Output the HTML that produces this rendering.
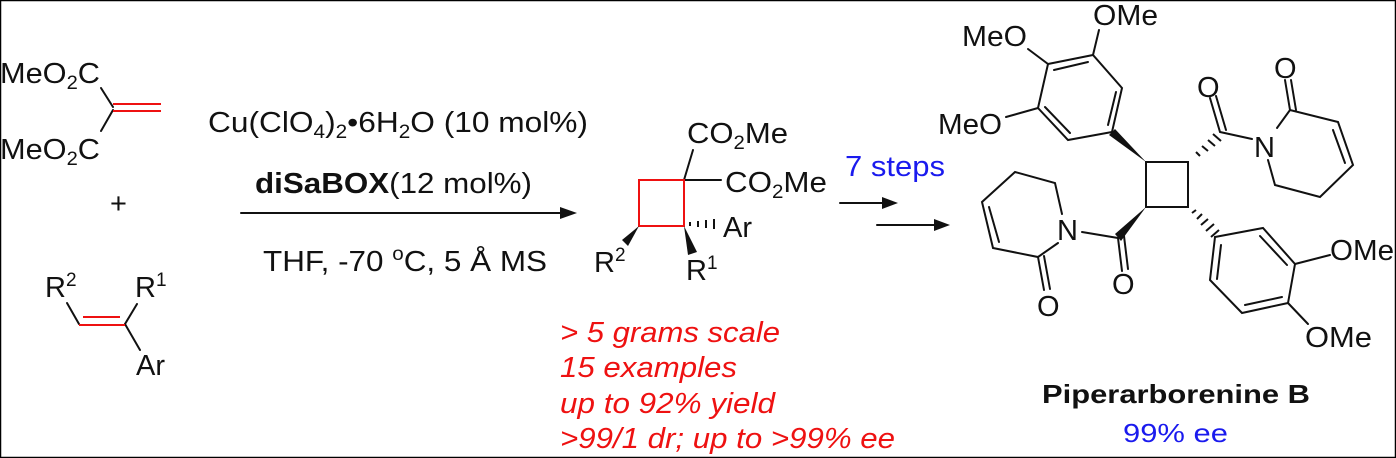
<!DOCTYPE html>
<html><head><meta charset="utf-8"><style>
html,body{margin:0;padding:0;background:#fff}
svg{display:block}
text{font-family:"Liberation Sans",Arial,sans-serif;font-size:29px;fill:#111}
.s{font-size:19px}
</style></head><body>
<svg width="1396" height="458" viewBox="0 0 1396 458" xmlns="http://www.w3.org/2000/svg">
<rect x="0.5" y="0.5" width="1395" height="457" fill="#fff" stroke="#000" stroke-width="1.5"/>
<g stroke="#111" stroke-width="2" fill="none" stroke-linecap="round">
<line x1="101" y1="88" x2="113" y2="107"/>
<line x1="113" y1="110" x2="101" y2="131"/>
<line x1="67" y1="303" x2="79" y2="324"/>
<line x1="125" y1="324" x2="137" y2="304"/>
<line x1="125" y1="324" x2="140" y2="350"/>
<line x1="241" y1="213" x2="565" y2="213"/>
<line x1="840" y1="203" x2="888" y2="203"/>
<line x1="877" y1="225" x2="940" y2="225"/>
<line x1="684" y1="180" x2="693" y2="150"/>
<line x1="684" y1="180" x2="721" y2="180"/>
<polygon points="1146,162 1188,162 1188,207 1146,207"/>
<polygon points="1112,132 1122,88 1093,55 1048,64 1038,108 1068,140"/>
<line x1="1116" y1="92" x2="1108" y2="125"/>
<line x1="1088" y1="62" x2="1054" y2="70"/>
<line x1="1045" y1="107" x2="1070" y2="133"/>
<line x1="1093" y1="55" x2="1099" y2="30"/>
<line x1="1048" y1="64" x2="1028" y2="49"/>
<line x1="1038" y1="108" x2="1006" y2="117"/>
<line x1="1220" y1="132" x2="1210" y2="98"/>
<line x1="1226" y1="130" x2="1216" y2="96"/>
<line x1="1220" y1="132" x2="1252" y2="139"/>
<polyline points="1277,128 1290,110 1338,122 1353,165 1320,197 1275,185 1268,160"/>
<line x1="1333" y1="130" x2="1345" y2="163"/>
<line x1="1290" y1="110" x2="1285" y2="80"/>
<line x1="1296" y1="110" x2="1291" y2="80"/>
<line x1="1118" y1="238" x2="1122" y2="271"/>
<line x1="1124" y1="236" x2="1128" y2="269"/>
<line x1="1118" y1="238" x2="1082" y2="232"/>
<polyline points="1058,243 1038,257 993,248 982,202 1015,172 1055,183 1062,214"/>
<line x1="999" y1="242" x2="989" y2="207"/>
<line x1="1038" y1="257" x2="1044" y2="290"/>
<line x1="1044" y1="256" x2="1050" y2="289"/>
<polygon points="1215,237 1263,228 1295,264 1288,303 1242,313 1210,280"/>
<line x1="1260" y1="236" x2="1287" y2="265"/>
<line x1="1282" y1="297" x2="1245" y2="305"/>
<line x1="1217" y1="279" x2="1221" y2="245"/>
<line x1="1295" y1="264" x2="1330" y2="255"/>
<line x1="1288" y1="303" x2="1308" y2="324"/>
</g>
<g stroke="#ee1111" stroke-width="2" fill="none">
<line x1="113" y1="104" x2="161" y2="104"/>
<line x1="113" y1="111" x2="161" y2="111"/>
<line x1="79" y1="325" x2="125" y2="325"/>
<line x1="83" y1="317" x2="120" y2="317"/>
<rect x="639" y="180" width="45" height="46"/>
</g>
<g fill="#111">
<polygon points="577,213 560,207 560,219"/>
<polygon points="898,203 882,197 882,209"/>
<polygon points="950,225 934,219 934,231"/>
<polygon points="684,226 688,255 697,252"/>
<polygon points="639,226 622,240 628,246"/>
<polygon points="1146,162 1109,135 1115,129"/>
<polygon points="1146,207 1115,234 1121,241"/>
</g>
<g stroke="#111" stroke-width="2">
<line x1="690" y1="222" x2="690" y2="226"/><line x1="698" y1="221" x2="698" y2="227"/><line x1="706" y1="220" x2="706" y2="228"/><line x1="714" y1="219" x2="714" y2="229"/>
<line x1="1196" y1="152" x2="1200" y2="156"/><line x1="1202" y1="146" x2="1208" y2="151"/><line x1="1208" y1="140" x2="1215" y2="146"/><line x1="1213" y1="134" x2="1221" y2="141"/>
<line x1="1192" y1="213" x2="1196" y2="210"/><line x1="1197" y1="219" x2="1202" y2="214"/><line x1="1201" y1="225" x2="1208" y2="219"/><line x1="1206" y1="231" x2="1214" y2="224"/><line x1="1211" y1="237" x2="1219" y2="230"/>
</g>
<text x="0" y="83" textLength="100" lengthAdjust="spacingAndGlyphs">MeO<tspan class="s" dy="6">2</tspan><tspan dy="-6">C</tspan></text>
<text x="0" y="159" textLength="100" lengthAdjust="spacingAndGlyphs">MeO<tspan class="s" dy="6">2</tspan><tspan dy="-6">C</tspan></text>
<text x="110" y="213">+</text>
<text x="45" y="297">R<tspan class="s" dy="-11">2</tspan></text>
<text x="135" y="297">R<tspan class="s" dy="-11">1</tspan></text>
<text x="136" y="375">Ar</text>
<text x="208" y="132" textLength="380" lengthAdjust="spacingAndGlyphs">Cu(ClO<tspan class="s" dy="6">4</tspan><tspan dy="-6">)</tspan><tspan class="s" dy="6">2</tspan><tspan dy="-6">•6H</tspan><tspan class="s" dy="6">2</tspan><tspan dy="-6">O (10 mol%)</tspan></text>
<text x="255" y="193" textLength="277" lengthAdjust="spacingAndGlyphs"><tspan font-weight="bold">diSaBOX</tspan>(12 mol%)</text>
<text x="263" y="271" textLength="284" lengthAdjust="spacingAndGlyphs">THF, -70 <tspan class="s" dy="-11">o</tspan><tspan dy="11">C, 5 Å MS</tspan></text>
<text x="687" y="143" textLength="101" lengthAdjust="spacingAndGlyphs">CO<tspan class="s" dy="6">2</tspan><tspan dy="-6">Me</tspan></text>
<text x="725" y="192" textLength="102" lengthAdjust="spacingAndGlyphs">CO<tspan class="s" dy="6">2</tspan><tspan dy="-6">Me</tspan></text>
<text x="723" y="237">Ar</text>
<text x="594" y="272">R<tspan class="s" dy="-11">2</tspan></text>
<text x="686" y="280">R<tspan class="s" dy="-11">1</tspan></text>
<text x="845" y="176" style="fill:#1a1aee" textLength="100" lengthAdjust="spacingAndGlyphs">7 steps</text>
<g style="font-style:italic;font-size:27px">
<text x="560" y="342" style="fill:#ee1111" textLength="220" lengthAdjust="spacingAndGlyphs">&gt; 5 grams scale</text>
<text x="560" y="377" style="fill:#ee1111" textLength="177" lengthAdjust="spacingAndGlyphs">15 examples</text>
<text x="560" y="413" style="fill:#ee1111" textLength="215" lengthAdjust="spacingAndGlyphs">up to 92% yield</text>
<text x="560" y="448" style="fill:#ee1111" textLength="335" lengthAdjust="spacingAndGlyphs">&gt;99/1 dr; up to &gt;99% ee</text>
</g>
<text x="1093" y="25" textLength="65" lengthAdjust="spacingAndGlyphs">OMe</text>
<text x="962" y="46" textLength="65" lengthAdjust="spacingAndGlyphs">MeO</text>
<text x="938" y="134" textLength="64" lengthAdjust="spacingAndGlyphs">MeO</text>
<text x="1197" y="97">O</text>
<text x="1274" y="78">O</text>
<text x="1254" y="157">N</text>
<text x="1057" y="240">N</text>
<text x="1112" y="294">O</text>
<text x="1037" y="316">O</text>
<text x="1330" y="260" textLength="64" lengthAdjust="spacingAndGlyphs">OMe</text>
<text x="1305" y="347" textLength="67" lengthAdjust="spacingAndGlyphs">OMe</text>
<text x="1042" y="403" style="font-weight:bold;font-size:26px" textLength="268" lengthAdjust="spacingAndGlyphs">Piperarborenine B</text>
<text x="1123" y="442" style="fill:#1a1aee;font-size:26px" textLength="105" lengthAdjust="spacingAndGlyphs">99% ee</text>
</svg>
</body></html>
